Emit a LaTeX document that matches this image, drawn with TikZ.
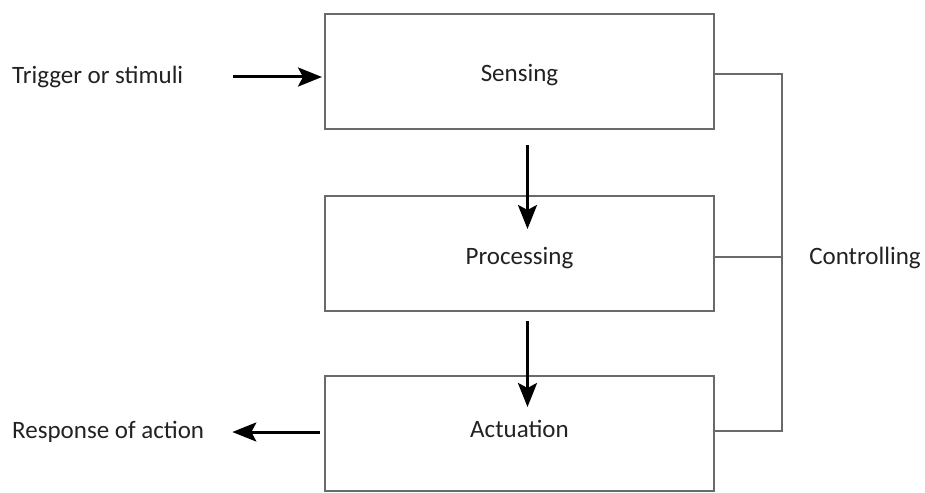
\documentclass[tikz,border=0pt]{standalone}
\usepackage{fontspec}
\setmainfont{Carlito}
\usetikzlibrary{positioning,arrows.meta}
\definecolor{ink}{HTML}{222222}
\definecolor{frame}{HTML}{6A6A6A}

\begin{document}
\begin{tikzpicture}[
  x=1pt, y=-1pt,
  font=\fontsize{25}{30}\selectfont,
  >={Stealth[length=24pt, width=19pt, inset=5pt]},
  node distance=67pt,
  box/.style ={draw=frame, line width=1.8pt, fill=white, text=ink,
               minimum width=389pt, minimum height=115pt,
               text height=21pt, text depth=0pt,
               inner sep=0pt, outer sep=0pt},
  lbl/.style ={text=ink, inner sep=0pt},
  flow/.style={->, draw=black, line width=3pt},
  wire/.style={draw=frame, line width=1.8pt},
]
  \useasboundingbox (0,0) rectangle (925,492);

  % --- stages ---
  \node[box] (sens) at (519.5,71.5) {Sensing};
  \node[box, below=67pt of sens] (proc) {Processing};
  \node[box, below=65pt of proc, text height=7pt] (act) {Actuation};

  % --- input / output ---
  \node[lbl, anchor=west] (trig) at (12,77)  {Trigger or stimuli};
  \node[lbl, anchor=west] (resp) at (12,432) {Response of action};
  \node[lbl] (ctl) at (865,258) {Controlling};

  % --- arrows ---
  \draw[flow, shorten <=50pt, shorten >=3pt] (trig.east) -- (trig.east -| sens.west);
  \draw[flow, shorten <=16pt, shorten >=-33pt] ([xshift=8pt]sens.south) -- ([xshift=8pt]proc.north);
  \draw[flow, shorten <=10pt, shorten >=-31pt] ([xshift=8pt]proc.south) -- ([xshift=8pt]act.north);
  \draw[flow, shorten <=5pt, shorten >=28pt] (resp.east -| act.west) -- (resp.east);

  % --- control bus ---
  \coordinate (bustop) at (782,74);
  \coordinate (busbot) at (782,431);
  \draw[wire] (sens.east |- bustop) -- (bustop) -- (busbot) -- (act.east |- busbot);
  \draw[wire] ([yshift=-3.5pt]proc.east) -- ([yshift=-3.5pt]proc.east -| bustop);
\end{tikzpicture}
\end{document}
